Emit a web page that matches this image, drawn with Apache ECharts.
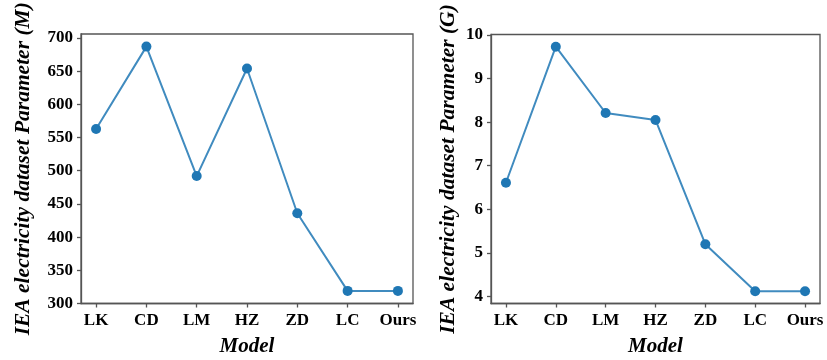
<!DOCTYPE html>
<html>
<head>
<meta charset="utf-8">
<script src="https://cdn.jsdelivr.net/npm/echarts@6/dist/echarts.min.js"></script>
<style>
  html, body { margin: 0; padding: 0; background: #fff; }
  #chart { width: 827px; height: 360px; }
</style>
</head>
<body>
<div id="chart"></div>
<script>
// Model names along the x axis
const models = ['LK', 'CD', 'LM', 'HZ', 'ZD', 'LC', 'Ours'];
// Parameter counts, millions
const paramsM = [563, 687, 492, 654, 436, 319, 319];
// Parameter size, G
const paramsG = [6.61, 9.73, 8.21, 8.05, 5.20, 4.12, 4.12];
// Tick labels for the two y axes
const ticksM = [300, 350, 400, 450, 500, 550, 600, 650, 700];
const ticksG = [4, 5, 6, 7, 8, 9, 10];

const FONT = 'Liberation Serif';
const AXIS_COLOR = '#555';
const LINE_COLOR = '#1f77b4';

const toPairs = vals => vals.map((v, i) => [i, v]);
const idx = models.map((_, i) => i);

function xAxis(gridIndex) {
  return {
    type: 'value', gridIndex, min: -0.3, max: 6.3,
    name: 'Model', nameLocation: 'middle', nameGap: 33,
    nameTextStyle: { fontFamily: FONT, fontWeight: 'bold', fontStyle: 'italic', fontSize: 21, color: '#000' },
    axisLine: { show: true, onZero: false, lineStyle: { color: AXIS_COLOR, width: 1.3 } },
    axisTick: { show: true, length: 4, customValues: idx, lineStyle: { color: AXIS_COLOR, width: 1.3 } },
    axisLabel: {
      customValues: idx, margin: 9,
      formatter: v => models[Math.round(v)] || '',
      fontFamily: FONT, fontWeight: 'bold', fontSize: 17, color: '#000'
    },
    splitLine: { show: false }
  };
}

function yAxis(gridIndex, min, max, ticks, name, nameGap) {
  return {
    type: 'value', gridIndex, min, max,
    name, nameLocation: 'middle', nameGap, nameRotate: 90,
    nameTextStyle: { fontFamily: FONT, fontWeight: 'bold', fontStyle: 'italic', fontSize: 21.5, color: '#000' },
    axisLine: { show: true, onZero: false, lineStyle: { color: AXIS_COLOR, width: 1.3 } },
    axisTick: { show: true, length: 4, customValues: ticks, lineStyle: { color: AXIS_COLOR, width: 1.3 } },
    axisLabel: {
      customValues: ticks, margin: 8,
      fontFamily: FONT, fontWeight: 'bold', fontSize: 17, color: '#000'
    },
    splitLine: { show: false }
  };
}

function lineSeries(i, vals) {
  return {
    type: 'line', xAxisIndex: i, yAxisIndex: i,
    data: toPairs(vals),
    symbol: 'circle', symbolSize: 10,
    lineStyle: { color: LINE_COLOR, width: 2, opacity: 0.85 },
    itemStyle: { color: LINE_COLOR },
    emphasis: { disabled: true }
  };
}

const gridBase = {
  show: true, borderColor: AXIS_COLOR, borderWidth: 1.3,
  backgroundColor: 'transparent', containLabel: false, outerBoundsMode: 'none'
};

const chart = echarts.init(document.getElementById('chart'), null, { renderer: 'canvas' });
chart.setOption({
  animation: false,
  backgroundColor: '#fff',
  grid: [
    Object.assign({ left: 81, right: 414, top: 34, bottom: 56.5 }, gridBase),
    Object.assign({ left: 491, right: 7, top: 34.5, bottom: 56.5 }, gridBase)
  ],
  xAxis: [xAxis(0), xAxis(1)],
  yAxis: [
    yAxis(0, 300, 706, ticksM, 'IEA electricity dataset Parameter (M)', 47),
    yAxis(1, 3.84, 10.01, ticksG, 'IEA electricity dataset Parameter (G)', 32)
  ],
  series: [lineSeries(0, paramsM), lineSeries(1, paramsG)]
});
</script>
</body>
</html>
